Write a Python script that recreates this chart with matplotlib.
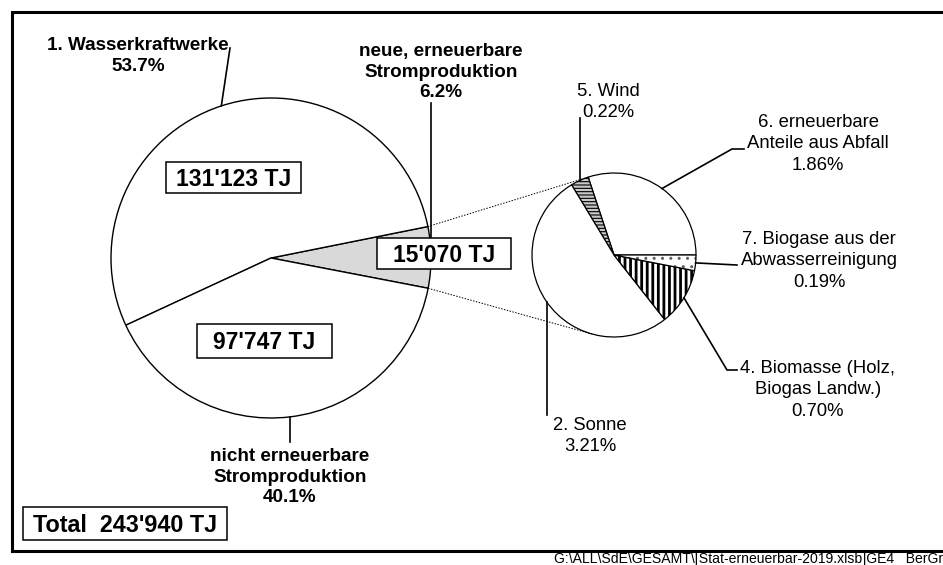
import numpy as np
import matplotlib
matplotlib.use('Agg')
import matplotlib.pyplot as plt
from matplotlib.patches import Rectangle, Wedge

plt.rcParams['font.family'] = ['Liberation Sans', 'DejaVu Sans']

# Stromproduktion 2019 [TJ]
main_labels = ["neue, erneuerbare\nStromproduktion", "1. Wasserkraftwerke",
               "nicht erneuerbare\nStromproduktion"]
main_tj = [15070, 131123, 97747]
main_pct = [6.2, 53.7, 40.1]
total_tj = 243940

# neue erneuerbare Stromproduktion, Anteil am Total [%]
sub_labels = ["6. erneuerbare\nAnteile aus Abfall", "5. Wind", "2. Sonne",
              "4. Biomasse (Holz,\nBiogas Landw.)", "7. Biogase aus der\nAbwasserreinigung"]
sub_pct = [1.86, 0.22, 3.21, 0.70, 0.19]

footer = "G:\\ALL\\SdE\\GESAMT\\[Stat-erneuerbar-2019.xlsb]GE4   BerGr"

# --- layout (pixel coords, y down) ---
W, H = 943, 565
BIG_C, BIG_R = (271, 258), 160
SUB_C, SUB_R = (614, 255), 82

# leader elbows: x=None -> straight up/down from the wedge edge
main_text_pos = [(441, 43), (138, 37), (290, 448)]
main_leader = [[(None, 103)], [(230, 48)], [(None, 442)]]
main_box = [(444, 253.5, 134, 31), (233.5, 177.5, 135, 31), (264.5, 341, 135, 34)]
main_colors = ['#d9d9d9', 'white', 'white']

sub_text_pos = [(818, 114), (608, 83), (590, 417), (818, 360), (819, 231)]
sub_leader = [[(732, 149), (744, 149)], [(None, 118)], [(None, 415)],
              [(727, 370), (737, 370)], [(737, 265)]]
sub_colors = ['white', '#c8c8c8', 'white', 'white', 'white']
sub_hatch = [None, '-----', None, '|||', '..']
sub_hatch_col = [None, 'black', None, 'black', '#606060']
sub_hatch_lw = [None, 0.8, None, 2.0, 1.0]

fig = plt.figure(figsize=(W / 100, H / 100), dpi=100)
ax = fig.add_axes([0, 0, 1, 1])

wedges_main, _ = ax.pie(main_tj, center=BIG_C, radius=BIG_R, startangle=10.9,
                        counterclock=False, colors=main_colors, frame=True,
                        wedgeprops=dict(edgecolor='black', linewidth=1.0))
wedges_sub, _ = ax.pie(sub_pct, center=SUB_C, radius=SUB_R, startangle=0,
                       counterclock=False, colors=sub_colors, frame=True,
                       wedgeprops=dict(edgecolor='black', linewidth=0.9))

for w, h, hc, hl in zip(wedges_sub, sub_hatch, sub_hatch_col, sub_hatch_lw):
    if not h:
        continue
    if hasattr(w, 'set_hatch_linewidth'):
        w.set_hatch_linewidth(hl)
    w.set_hatch(h)
    w.set_edgecolor(hc)
    if hc != 'black':
        w.set_linewidth(0)
        ax.add_patch(Wedge(w.center, w.r, w.theta1, w.theta2, fill=False,
                           edgecolor='black', linewidth=0.9))


def edge_point(w):
    a = np.deg2rad((w.theta1 + w.theta2) / 2)
    return w.center[0] + w.r * np.cos(a), w.center[1] + w.r * np.sin(a)


def leader(w, elbows):
    ex, ey = edge_point(w)
    pts = [(ex, ey)] + [(ex if x is None else x, y) for x, y in elbows]
    ax.plot(*zip(*pts), color='black', lw=1.2, zorder=2)


# dotted tangents from the grey wedge to the detail pie
g = wedges_main[0]
c = np.array(SUB_C, dtype=float)
for ang, sign in ((g.theta1, -1), (g.theta2, 1)):
    a = np.deg2rad(ang)
    p = np.array([g.center[0] + g.r * np.cos(a), g.center[1] + g.r * np.sin(a)])
    d = np.linalg.norm(p - c)
    beta = np.arctan2(p[1] - c[1], p[0] - c[0])
    alpha = np.arccos(SUB_R / d)
    cands = [c + SUB_R * np.array([np.cos(beta + s * alpha), np.sin(beta + s * alpha)]) for s in (1, -1)]
    t = sorted(cands, key=lambda q: sign * q[1])[-1]
    ax.plot([p[0], t[0]], [p[1], t[1]], color='black', lw=0.7, ls=(0, (1.5, 1.5)), zorder=2)

# leader lines + labels
for w, lab, pct, tp, ld in zip(wedges_main, main_labels, main_pct, main_text_pos, main_leader):
    leader(w, ld)
    ax.text(tp[0], tp[1], f"{lab}\n{pct:.1f}%", ha='center', va='top', ma='center',
            fontsize=13.6, fontweight='bold', linespacing=1.27)

for w, lab, pct, tp, ld in zip(wedges_sub, sub_labels, sub_pct, sub_text_pos, sub_leader):
    leader(w, ld)
    ax.text(tp[0], tp[1], f"{lab}\n{pct:.2f}%", ha='center', va='top', ma='center',
            fontsize=13.3, linespacing=1.34)


def tj(v):
    return f"{v:,}".replace(",", "'") + " TJ"


def boxed(cx, cy, bw, bh, s, fs=16.5):
    ax.add_patch(Rectangle((cx - bw / 2, cy - bh / 2), bw, bh, facecolor='white',
                           edgecolor='black', linewidth=1.1, zorder=3))
    ax.text(cx, cy + 0.716 * fs * 100 / 72 / 2, s, ha='center', va='baseline',
            fontsize=fs, fontweight='bold', zorder=4)


for v, (cx, cy, bw, bh) in zip(main_tj, main_box):
    boxed(cx, cy, bw, bh, tj(v))
boxed(125, 523.5, 204, 33, "Total  " + tj(total_tj), fs=16.8)

# frame (open on the right)
ax.plot([W + 5, 11.5, 11.5, W + 5], [11.5, 11.5, 550.5, 550.5], color='black',
        lw=2.2, solid_joinstyle='miter', zorder=5, clip_on=False)
ax.text(554, 563, footer, ha='left', va='baseline', fontsize=10.1)

ax.set_xlim(0, W)
ax.set_ylim(H, 0)
ax.set_aspect('equal')
ax.axis('off')

fig.savefig('out.png', dpi=100)
